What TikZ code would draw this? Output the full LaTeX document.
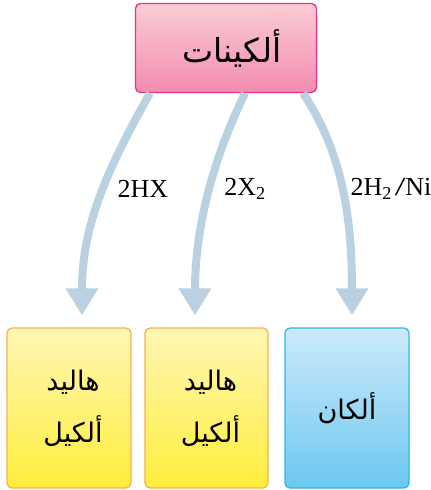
\documentclass[tikz,border=0pt]{standalone}
\usepackage{fontspec}
\setmainfont{Liberation Serif}
\newfontfamily\arabicfont[Script=Arabic]{DejaVu Sans}
\TeXXeTstate=1
\usetikzlibrary{arrows.meta,positioning,calc}

\definecolor{pinktop}{HTML}{FACCD4}
\definecolor{pinkbot}{HTML}{F28CB0}
\definecolor{pinkline}{HTML}{E8338C}
\definecolor{yeltop}{HTML}{FFF6B4}
\definecolor{yelbot}{HTML}{FFEE3C}
\definecolor{yelline}{HTML}{F6B050}
\definecolor{bluetop}{HTML}{CCEAFA}
\definecolor{bluebot}{HTML}{6CC8F0}
\definecolor{blueline}{HTML}{2DB8EA}
\definecolor{arrowcol}{HTML}{B9D1E0}

\begin{document}
\begin{tikzpicture}[x=1pt,y=-1pt,>={Triangle[width=31pt,length=27pt]},
  box/.style={draw,rounded corners=5pt,line width=1.3pt,align=center,inner sep=0pt,
    font=\arabicfont\fontsize{27}{52}\selectfont},
  flow/.style={->,draw=arrowcol,line width=8pt,shorten >=12pt},
  lbl/.style={font=\fontsize{26}{28}\selectfont,inner sep=0pt}]
  \useasboundingbox (0,0) rectangle (431,490);
  \node[box,draw=pinkline,top color=pinktop,bottom color=pinkbot,minimum width=181pt,minimum height=89pt,
    font=\arabicfont\fontsize{33}{40}\selectfont]
    (alk) at (226,48) {\hspace*{12pt}\beginR ألكينات\endR};
  \node[box,draw=yelline,top color=yeltop,bottom color=yelbot,minimum width=124pt,minimum height=160pt]
    (hal1) at (69,408) {\hspace*{8pt}\beginR هاليد\endR\\\hspace*{8pt}\beginR ألكيل\endR};
  \node[box,draw=yelline,top color=yeltop,bottom color=yelbot,minimum width=123pt,minimum height=160pt]
    (hal2) at (206.5,408) {\hspace*{8pt}\beginR هاليد\endR\\\hspace*{8pt}\beginR ألكيل\endR};
  \node[box,draw=blueline,top color=bluetop,bottom color=bluebot,minimum width=124pt,minimum height=160pt]
    (alkan) at (347,408) {\beginR ألكان\endR};
  % reagents
  \node[lbl] (hx) at (143,189) {2HX};
  \node[lbl] (xx) at (245,189) {2X\textsubscript{2}};
  \node[lbl] (hni) at (391,189) {2H\textsubscript{2}\,\textbf{\textit{/}}Ni};
  \draw[flow] ([xshift=-76pt]alk.south) .. controls +(-45,80) and +(0,-100) .. ([xshift=13pt]hal1.north);
  \draw[flow] ([xshift=19pt]alk.south) .. controls +(-33,68) and +(0,-98) .. ([xshift=-11.5pt]hal2.north);
  \draw[flow] ([xshift=77pt]alk.south) .. controls +(40,60) and +(0,-108) .. ([xshift=5pt]alkan.north);
\end{tikzpicture}
\end{document}
